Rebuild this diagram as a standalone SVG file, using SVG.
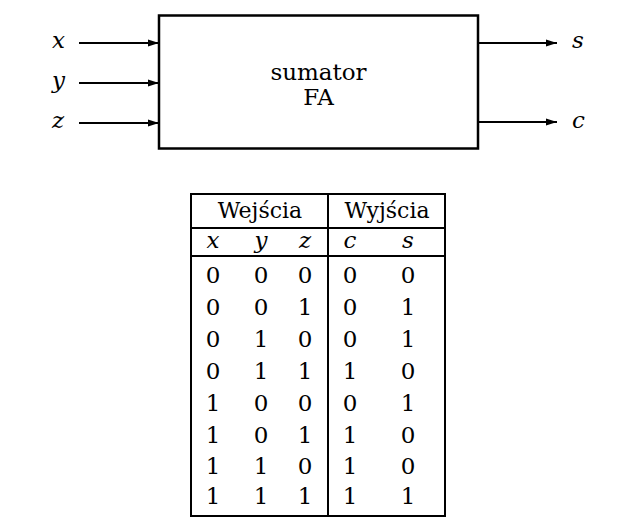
<svg xmlns="http://www.w3.org/2000/svg" width="641" height="530" viewBox="0 0 641 530">
<style>
text{font-family:"DejaVu Serif","Liberation Serif",serif;fill:#000}
.m{font-style:italic;font-size:23px}
.t{font-size:23px;text-anchor:middle}
.d{font-size:23px;text-anchor:middle}
.h{font-size:22px;text-anchor:middle}
.ln{stroke:#000;stroke-width:2;fill:none}
</style>
<defs>
<marker id="ah" markerWidth="12" markerHeight="8" refX="11" refY="4" orient="auto" markerUnits="userSpaceOnUse">
<path d="M0,0.5 L11,4 L0,7.5 Z" fill="#000"/>
</marker>
</defs>
<g id="fa">
<rect x="159" y="15.5" width="319" height="133" fill="#fff" stroke="#000" stroke-width="2.5"/>
<text class="t" x="318.5" y="80">sumator</text>
<text class="t" x="318.5" y="105">FA</text>
</g>
<g id="labels">
<text class="m" x="52" y="48">x</text>
<text class="m" x="52" y="88">y</text>
<text class="m" x="52" y="128">z</text>
<text class="m" x="572" y="48">s</text>
<text class="m" x="572" y="128">c</text>
</g>
<g id="connectors">
<line class="ln" x1="79" y1="43" x2="159" y2="43" marker-end="url(#ah)"/>
<line class="ln" x1="79" y1="83" x2="159" y2="83" marker-end="url(#ah)"/>
<line class="ln" x1="79" y1="123" x2="159" y2="123" marker-end="url(#ah)"/>
<line class="ln" x1="478" y1="43" x2="557" y2="43" marker-end="url(#ah)"/>
<line class="ln" x1="478" y1="122" x2="557" y2="122" marker-end="url(#ah)"/>
</g>
<g id="table">
<rect x="191" y="194" width="254" height="322" fill="none" stroke="#000" stroke-width="2"/>
<line class="ln" x1="328" y1="194" x2="328" y2="516"/>
<line class="ln" x1="191" y1="228" x2="445" y2="228" stroke-width="1.5"/>
<line class="ln" x1="191" y1="256" x2="445" y2="256" stroke-width="2.5"/>
<text class="h" x="260" y="218">Wejścia</text>
<text class="h" x="387" y="218">Wyjścia</text>
<g class="m" text-anchor="middle">
<text x="213" y="248">x</text><text x="261" y="248">y</text><text x="305" y="248">z</text><text x="350" y="248">c</text><text x="408" y="248">s</text>
</g>
<g class="d">
<text x="213" y="283">0</text><text x="261" y="283">0</text><text x="305" y="283">0</text><text x="350" y="283">0</text><text x="408" y="283">0</text>
<text x="213" y="315">0</text><text x="261" y="315">0</text><text x="305" y="315">1</text><text x="350" y="315">0</text><text x="408" y="315">1</text>
<text x="213" y="347">0</text><text x="261" y="347">1</text><text x="305" y="347">0</text><text x="350" y="347">0</text><text x="408" y="347">1</text>
<text x="213" y="379">0</text><text x="261" y="379">1</text><text x="305" y="379">1</text><text x="350" y="379">1</text><text x="408" y="379">0</text>
<text x="213" y="411">1</text><text x="261" y="411">0</text><text x="305" y="411">0</text><text x="350" y="411">0</text><text x="408" y="411">1</text>
<text x="213" y="443">1</text><text x="261" y="443">0</text><text x="305" y="443">1</text><text x="350" y="443">1</text><text x="408" y="443">0</text>
<text x="213" y="474">1</text><text x="261" y="474">1</text><text x="305" y="474">0</text><text x="350" y="474">1</text><text x="408" y="474">0</text>
<text x="213" y="504">1</text><text x="261" y="504">1</text><text x="305" y="504">1</text><text x="350" y="504">1</text><text x="408" y="504">1</text>
</g>
</g>
</svg>
